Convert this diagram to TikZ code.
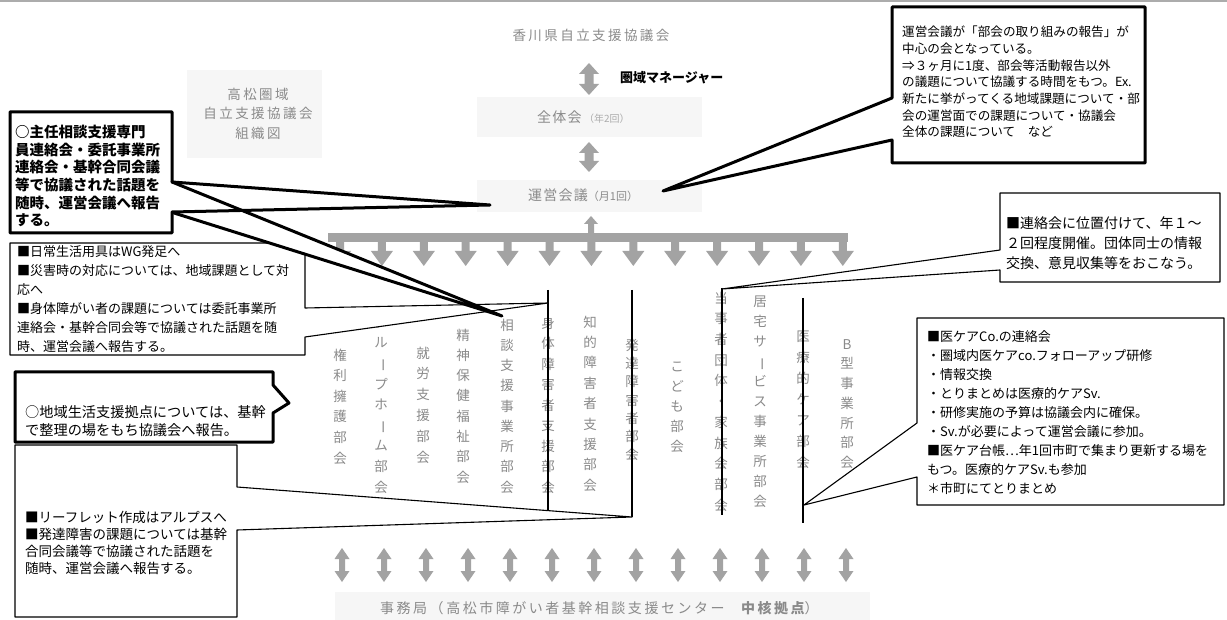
\documentclass[tikz,border=0pt]{standalone}
\usepackage{graphicx}
\usepackage{fontspec}
\setmainfont{Noto Sans CJK JP}
\newfontfamily\jp{Noto Sans CJK JP}
\newfontfamily\jpls{Noto Sans CJK JP}[LetterSpace=18]
\newfontfamily\jplt{Noto Sans CJK JP}[LetterSpace=9]
\definecolor{tg}{HTML}{8A8A8A}
\definecolor{ag}{HTML}{A3A3A3}
\definecolor{bgf}{HTML}{F6F6F6}
\newcommand\vb{\rotatebox[origin=c]{-90}{ー}}
\newcommand\dblarrow[6]{% x, ytop, ybot, head half width, shaft half width, head length
  \fill[garrow] (#1,#2) -- ({#1+#4},{#2+#6}) -- ({#1+#5},{#2+#6}) -- ({#1+#5},{#3-#6}) -- ({#1+#4},{#3-#6})
    -- (#1,#3) -- ({#1-#4},{#3-#6}) -- ({#1-#5},{#3-#6}) -- ({#1-#5},{#2+#6}) -- ({#1-#4},{#2+#6}) -- cycle;}
\newcommand\barrowdown[1]{%
  \fill[garrow] ({#1-4},241) -- ({#1+4},241) -- ({#1+4},251) -- ({#1+11},251) -- (#1,266) -- ({#1-11},251) -- ({#1-4},251) -- cycle;}
\tikzset{
  vtext/.style={font=\jp\fontsize{13.5}{#1}\selectfont, text=tg, align=center, inner sep=0pt},
  vtext/.default=20.5,
  ttext/.style={inner sep=0pt, text=tg},
  ctext/.style={anchor=west, align=left, inner sep=0pt, text=black},
  callthick/.style={draw=black, line width=3pt, fill=white, line join=round},
  callthin/.style={draw=black, line width=1.1pt, fill=white, line join=round},
  thickline/.style={draw=black, line width=3pt, line join=round, line cap=round},
  garrow/.style={fill=ag},
  vline/.style={draw=black, line width=2.2pt},
  faint/.style={fill=bgf, draw=none},
}
\begin{document}
\begin{tikzpicture}[x=1pt,y=-1pt]
\useasboundingbox (0,0) rectangle (1227,620);
\fill[white] (0,0) rectangle (1227,620);
% scan edge at top
\fill[gray!65] (0,0) rectangle (1227,1.8);
% faint backgrounds
\path[faint] (187,70) rectangle (322,158);
\path[faint] (477,97) rectangle (702,137);
\path[faint] (477,180) rectangle (702,212);
\path[faint] (335,592) rectangle (870,620);

% top texts
\node[ttext, font=\jpls\fontsize{13.5}{16}\selectfont] (kagawa) at (591,35) {香川県自立支援協議会};
\node[anchor=west, inner sep=0pt, font=\jp\fontsize{13}{13}\selectfont\bfseries] (mgr) at (620,78) {圏域マネージャー};
\node[anchor=west, ttext] (zentai) at (537,117) {\jplt\fontsize{14}{14}\selectfont 全体会\,{\jp\fontsize{10}{10}\selectfont\color{tg!70}（年2回）}};
\node[anchor=west, ttext] (unei) at (528,195) {\jplt\fontsize{14}{14}\selectfont 運営会議{\jp\fontsize{11}{11}\selectfont （月1回）}};
\node[ttext, align=center, font=\jpls\fontsize{13.5}{19.5}\selectfont] (title) at (258,113.5) {高松圏域\\自立支援協議会\\組織図};
\node[anchor=west, ttext, font=\jpls\fontsize{14}{14}\selectfont] (jimu) at (380,608) {事務局（高松市障がい者基幹相談支援センター　{\bfseries 中核拠点}）};

% arrows
\dblarrow{589}{63}{95}{10}{4.5}{11}
\dblarrow{589}{142}{172}{10}{4.5}{11}
\fill[garrow] (591,216) -- (598,224) -- (594,224) -- (594,234) -- (588,234) -- (588,224) -- (584,224) -- cycle;
\fill[garrow] (328,233) rectangle (848,242);
\foreach \i in {0,...,12}{\pgfmathsetmacro\xx{340+41.9*\i}\barrowdown{\xx}}
\foreach \i in {0,...,12}{\pgfmathsetmacro\xx{342+42*\i}\dblarrow{\xx}{548}{582}{7.5}{3}{11}}

% vertical committee names
\node[vtext=20.6] (c1) at (340,406.5) {権\\利\\擁\\護\\部\\会};
\node[vtext=20.6] (c2) at (381,404.5) {グ\\ル\\\vb\\プ\\ホ\\\vb\\ム\\部\\会};
\node[vtext=20.8] (c3) at (423,405) {就\\労\\支\\援\\部\\会};
\node[vtext=20.3] (c4) at (463,406) {精\\神\\保\\健\\福\\祉\\部\\会};
\node[vtext=20.25] (c5) at (507,406) {相\\談\\支\\援\\事\\業\\所\\部\\会};
\node[vtext=20.5] (c6) at (548,405) {身\\体\\障\\害\\者\\支\\援\\部\\会};
\node[vtext=20.4] (c7) at (590,403.5) {知\\的\\障\\害\\者\\支\\援\\部\\会};
\node[vtext=18.3] (c8) at (632,400) {発\\達\\障\\害\\者\\部\\会};
\node[vtext=20] (c9) at (677,407) {こ\\ど\\も\\部\\会};
\node[vtext=20.7] (c10) at (721,401.5) {当\\事\\者\\団\\体\\・\\家\\族\\会\\部\\会};
\node[vtext=20] (c11) at (760,402) {居\\宅\\サ\\\vb\\ビ\\ス\\事\\業\\所\\部\\会};
\node[vtext=21] (c12) at (803,400) {医\\療\\的\\ケ\\ア\\部\\会};
\node[vtext=19.7] (c13) at (847,404) {B\\型\\事\\業\\所\\部\\会};

% black lines over some columns
\draw[vline] (548,290) -- (548,513);
\draw[vline] (632,290) -- (632,517);
\draw[vline] (722,288) -- (722,515);
\draw[vline] (803,298) -- (803,523);

% thin callouts
\path[callthin] (10,243) -- (305,243) -- (305,308) -- (548,303) -- (305,337) -- (305,355) -- (10,355) -- cycle;
\path[callthin] (1000,193) -- (1220,193) -- (1220,282) -- (1000,282) -- (1000,270) -- (722,289) -- (1000,250) -- cycle;
\path[callthin] (917,318) -- (1224,318) -- (1224,505) -- (917,505) -- (917,477) -- (804,505) -- (917,423) -- cycle;
\path[callthin] (15,445) -- (237,445) -- (237,487) -- (632,517) -- (237,530) -- (237,617) -- (15,617) -- cycle;
% thick callouts
\path[callthick] (15,372) -- (273,372) -- (273,385) -- (289,403) -- (273,413) -- (273,442) -- (15,442) -- cycle;
\fill[white] (172,182) -- (502,316) -- (174,213) -- cycle;
\path[callthick] (10,112) -- (172,112) -- (172,182) -- (490,205) -- (172,212) -- (172,233) -- (10,233) -- cycle;
\draw[thickline] (172,182) -- (502,316) -- (174,213);
\path[callthick] (892,7) -- (1145,7) -- (1145,163) -- (892,163) -- (892,140) -- (663,191) -- (892,98) -- cycle;

% callout texts
\node[ctext, font=\jp\fontsize{14.5}{17.6}\selectfont\bfseries] (t1) at (15,176) {○主任相談支援専門\\員連絡会・委託事業所\\連絡会・基幹合同会議\\等で協議された話題を\\随時、運営会議へ報告\\する。};
\node[ctext, font=\jp\fontsize{13}{19}\selectfont] (t2) at (17,299.5) {■日常生活用具はWG発足へ\\■災害時の対応については、地域課題として対\\応へ\\■身体障がい者の課題については委託事業所\\連絡会・基幹合同会等で協議された話題を随\\時、運営会議へ報告する。};
\node[ctext, font=\jp\fontsize{12.6}{16.67}\selectfont] (t3) at (902,82) {運営会議が「部会の取り組みの報告」が\\中心の会となっている。\\⇒３ヶ月に1度、部会等活動報告以外\\の議題について協議する時間をもつ。Ex.\\新たに挙がってくる地域課題について・部\\会の運営面での課題について・協議会\\全体の課題について　など};
\node[ctext, font=\jp\fontsize{14}{20}\selectfont] (t4) at (1006,243) {■連絡会に位置付けて、年１～\\２回程度開催。団体同士の情報\\交換、意見収集等をおこなう。};
\node[ctext, font=\jp\fontsize{13}{18.9}\selectfont] (t5) at (927,412.5) {■医ケアCo.の連絡会\\・圏域内医ケアco.フォローアップ研修\\・情報交換\\・とりまとめは医療的ケアSv.\\・研修実施の予算は協議会内に確保。\\・Sv.が必要によって運営会議に参加。\\■医ケア台帳…年1回市町で集まり更新する場を\\もつ。医療的ケアSv.も参加\\＊市町にてとりまとめ};
\node[ctext, font=\jp\fontsize{14.2}{18}\selectfont] (t6) at (25,421) {○地域生活支援拠点については、基幹\\で整理の場をもち協議会へ報告。};
\node[ctext, font=\jp\fontsize{13.5}{17}\selectfont] (t7) at (25,543) {■リーフレット作成はアルプスへ\\■発達障害の課題については基幹\\合同会議等で協議された話題を\\随時、運営会議へ報告する。};
\end{tikzpicture}
\end{document}
